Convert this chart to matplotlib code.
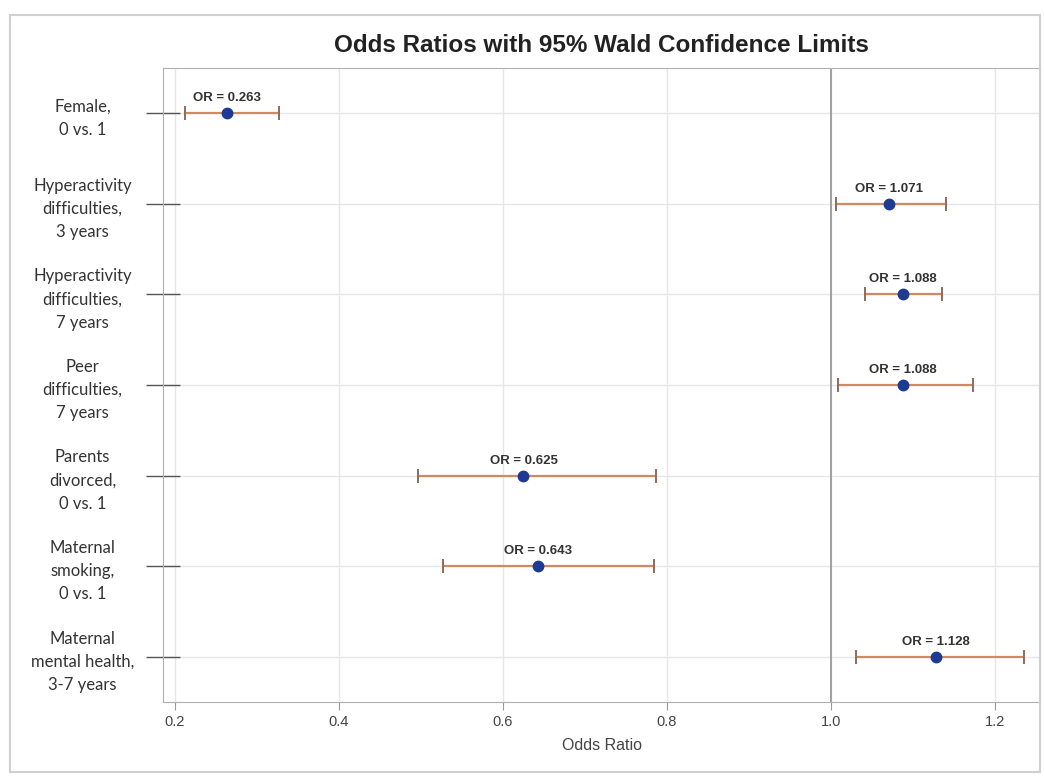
import matplotlib
matplotlib.use("Agg")
import matplotlib.pyplot as plt
from matplotlib.patches import Rectangle

labels = ["Female,\n0 vs. 1",
          "Hyperactivity\ndifficulties,\n3 years",
          "Hyperactivity\ndifficulties,\n7 years",
          "Peer\ndifficulties,\n7 years",
          "Parents\ndivorced,\n0 vs. 1",
          "Maternal\nsmoking,\n0 vs. 1",
          "Maternal\nmental health,\n3-7 years"]
odds = [0.263, 1.071, 1.088, 1.088, 0.625, 0.643, 1.128]
lower = [0.212, 1.006, 1.042, 1.009, 0.496, 0.527, 1.030]
upper = [0.327, 1.140, 1.136, 1.173, 0.787, 0.784, 1.235]
or_text = ["0.263", "1.071", "1.088", "1.088", "0.625", "0.643", "1.128"]
xticks = [0.2, 0.4, 0.6, 0.8, 1.0, 1.2]

fig = plt.figure(figsize=(10.44, 7.76), dpi=100)
fig.patches.append(Rectangle((10/1044, 1-772/776), 1030/1044, 757/776,
                             transform=fig.transFigure, fill=False,
                             edgecolor="#d0d0d0", linewidth=1.5))
ax = fig.add_axes([163/1044, 1-702/776, (1040-163)/1044, (702-68)/776])

n = len(labels)
ypos = list(range(n))
ax.set_ylim(n - 0.5, -0.5)
ax.set_xlim(0.1854, 1.255)

ax.grid(True, color="#e6e6e6", linewidth=1)
ax.set_axisbelow(True)
ax.axvline(1.0, color="#9a9a9a", linewidth=1.3, zorder=1)

xerr = [[o - l for o, l in zip(odds, lower)], [u - o for o, u in zip(odds, upper)]]
ax.errorbar(odds, ypos, xerr=xerr, fmt="none", ecolor="#cf8a63",
            elinewidth=1.6, capsize=5, capthick=1.3, zorder=2)
ax.errorbar(odds, ypos, xerr=xerr, fmt="none", ecolor="#8a6a60",
            elinewidth=0, capsize=5, capthick=1.3, zorder=2)
ax.plot(odds, ypos, "o", color="#1f3a93", markersize=7.5, zorder=3)

for o, y, t in zip(odds, ypos, or_text):
    ax.annotate(f"OR = {t}", (o, y), xytext=(0, 6.5), textcoords="offset points",
                ha="center", va="bottom", fontsize=9.5, fontweight="bold",
                color="#333333", family="Liberation Sans")

ax.set_yticks(ypos)
ax.set_yticklabels(labels, family="Lato", fontsize=12, color="#333333",
                   ha="center", linespacing=1.55)
ax.tick_params(axis="y", direction="inout", length=24, width=1,
               color="#555555", pad=46)
ax.set_xticks(xticks)
ax.set_xticklabels([f"{v:.1f}" for v in xticks], family="Liberation Sans",
                   fontsize=10.5, color="#444444")
ax.tick_params(axis="x", direction="out", length=6, color="#999999")
ax.set_xlabel("Odds Ratio", family="Liberation Sans", fontsize=11.5,
              color="#444444", labelpad=6)
for s in ax.spines.values():
    s.set_color("#b0b0b0")

fig.text(601/1044, 1-45/776, "Odds Ratios with 95% Wald Confidence Limits",
         ha="center", va="center", fontsize=17.5, fontweight="bold",
         family="Liberation Sans", color="#222222")

fig.savefig("out.png", dpi=100)
